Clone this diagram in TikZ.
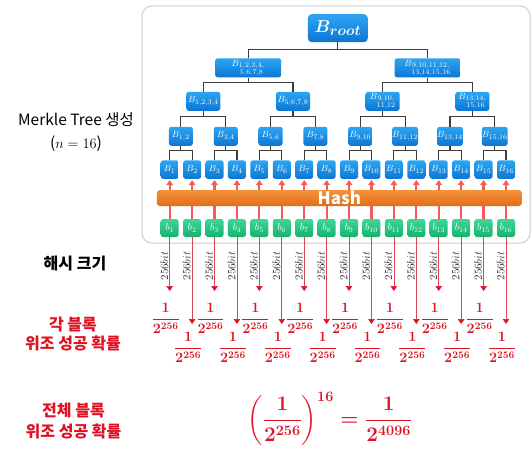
\documentclass[tikz,border=0pt]{standalone}
\usepackage{amsmath}
\usepackage{fontspec}
\newfontfamily\kr{Noto Sans CJK KR}
\usetikzlibrary{arrows.meta}
\definecolor{bluetop}{RGB}{45,165,242}
\definecolor{bluebot}{RGB}{12,118,212}
\definecolor{greentop}{RGB}{62,215,150}
\definecolor{greenbot}{RGB}{22,176,112}
\definecolor{orangetop}{RGB}{244,146,58}
\definecolor{orangebot}{RGB}{226,108,24}
\definecolor{hashred}{RGB}{242,92,92}
\definecolor{linered}{RGB}{214,72,88}
\definecolor{txtred}{RGB}{222,18,34}
\definecolor{conn}{RGB}{60,60,60}
\definecolor{framec}{RGB}{205,205,205}
\tikzset{
  bluebox/.style={rounded corners=2.5pt, top color=bluetop, bottom color=bluebot, text=white, inner sep=0pt},
  greenbox/.style={rounded corners=2.5pt, top color=greentop, bottom color=greenbot, text=white, inner sep=0pt,
     minimum width=18pt, minimum height=18pt, font=\fontsize{10}{10}\selectfont},
  leafbox/.style={bluebox, minimum width=18pt, minimum height=18.5pt, font=\fontsize{9.5}{10}\selectfont},
  lvfour/.style={bluebox, minimum width=24pt, minimum height=19pt, font=\fontsize{9.5}{10}\selectfont},
  lvthree/.style={bluebox, minimum width=34pt, minimum height=19pt, font=\fontsize{9.5}{10}\selectfont},
  lvtwo/.style={bluebox, minimum width=66pt, minimum height=19pt, font=\fontsize{9.5}{10}\selectfont},
  rootbox/.style={bluebox, rounded corners=4pt, minimum width=60pt, minimum height=28pt, font=\fontsize{19}{20}\selectfont\boldmath},
  connline/.style={draw=conn, line width=1.1pt},
  hasharrow/.style={draw=hashred, line width=2.2pt, -{Triangle[width=6.5pt,length=5pt]}, shorten >=1pt},
  hashbar/.style={rounded corners=3pt, top color=orangetop, bottom color=orangebot, minimum width=365pt, minimum height=16pt,
     inner sep=0pt, text=white, font=\kr\bfseries\fontsize{17}{17}\selectfont},
  thinarrow/.style={draw=linered, line width=0.7pt, -{Triangle[width=6.5pt,length=5pt,color=txtred]}},
  bitlabel/.style={rotate=90, inner sep=0pt, text=black!80, font=\fontsize{10.5}{10}\selectfont},
  fraclabel/.style={inner sep=0pt, anchor=base, text=txtred, font=\fontsize{14.5}{15}\selectfont\boldmath},
  krlabel/.style={align=center, inner sep=0pt, font=\kr\bfseries\fontsize{16}{20}\selectfont},
}
\begin{document}
\begin{tikzpicture}[x=1pt,y=-1pt]
\useasboundingbox (0,0) rectangle (532,452);
% frame
\draw[framec, line width=1pt, fill=white, rounded corners=10pt] (142,6) rectangle (530,243);

% leaves
\foreach \i in {1,...,16}{
  \pgfmathsetmacro\xx{169.7+(\i-1)*22.42}
  \node[greenbox] (b\i) at (\xx,228) {$b_{\i}$};
  \node[leafbox] (B\i) at (\xx,169.6) {$B_{\i}$};
}
% level 4
\foreach \k in {1,...,8}{
  \pgfmathtruncatemacro\a{2*\k-1}
  \pgfmathtruncatemacro\c{2*\k}
  \pgfmathsetmacro\xx{169.7+(2*\k-1.5)*22.42}
  \node[lvfour] (P\k) at (\xx,136.3) {$B_{\a,\c}$};
}
% level 3
\node[lvthree] (Q1) at (203.33,101.3) {$B_{1,2,3,4}$};
\node[lvthree] (Q2) at (293.01,101.3) {$B_{5,6,7,8}$};
\node[lvthree] (Q3) at (382.69,101.3) {$B_{\substack{9,10,\\11,12}}$};
\node[lvthree] (Q4) at (472.37,101.3) {$B_{\substack{13,14,\\15,16}}$};
% level 2
\node[lvtwo] (R1) at (248.17,67.8) {$B_{\substack{1,2,3,4,\\5,6,7,8}}$};
\node[lvtwo] (R2) at (427.53,67.8) {$B_{\substack{9,10,11,12,\\13,14,15,16}}$};
% root
\node[rootbox] (root) at (337.85,28.2) {$B_{root}$};

% connectors
\foreach \k in {1,...,8}{
  \pgfmathtruncatemacro\a{2*\k-1}
  \pgfmathtruncatemacro\c{2*\k}
  \draw[connline] (P\k.south) -- (P\k.south |- 0,150.7);
  \draw[connline] (B\a.north) -- (B\a.north |- 0,150.7) -- (B\c.north |- 0,150.7) -- (B\c.north);
}
\foreach \k in {1,...,4}{
  \pgfmathtruncatemacro\a{2*\k-1}
  \pgfmathtruncatemacro\c{2*\k}
  \draw[connline] (Q\k.south) -- (Q\k.south |- 0,116.7);
  \draw[connline] (P\a.north) -- (P\a.north |- 0,116.7) -- (P\c.north |- 0,116.7) -- (P\c.north);
}
\foreach \k in {1,2}{
  \pgfmathtruncatemacro\a{2*\k-1}
  \pgfmathtruncatemacro\c{2*\k}
  \draw[connline] (R\k.south) -- (R\k.south |- 0,82.7);
  \draw[connline] (Q\a.north) -- (Q\a.north |- 0,82.7) -- (Q\c.north |- 0,82.7) -- (Q\c.north);
}
\draw[connline] (root.south) -- (root.south |- 0,49.3);
\draw[connline] (R1.north) -- (R1.north |- 0,49.3) -- (R2.north |- 0,49.3) -- (R2.north);

% hash arrows
\foreach \i in {1,...,16}{
  \draw[hasharrow] (b\i.north) -- (B\i.south);
}
\node[hashbar] (hash) at (339.35,198) {Hash};

% below
\foreach \i in {1,...,16}{
  \pgfmathsetmacro\xx{169.7+(\i-1)*22.42}
  \pgfmathsetmacro\ty{ifthenelse(mod(\i,2)==1,291,324)}
  \pgfmathsetmacro\fy{ifthenelse(mod(\i,2)==1,322.8,351.8)}
  \coordinate (t\i) at (\xx,\ty);
  \draw[thinarrow] (b\i.south) -- (t\i);
  \node[bitlabel] (w\i) at (\xx-5.5,266) {$256bit$};
  \node[fraclabel] (f\i) at (\xx-4,\fy) {$\dfrac{1}{2^{256}}$};
}

% left labels
\node[krlabel, font=\kr\fontsize{15.5}{23}\selectfont] (mt) at (76,132) {Merkle Tree 생성\\($n=16$)};
\node[krlabel] (hs) at (75,263.5) {해시 크기};
\node[krlabel, text=txtred, font=\kr\bfseries\fontsize{16}{19.5}\selectfont] (each) at (73,334) {각 블록\\위조 성공 확률};
\node[krlabel, text=txtred, font=\kr\bfseries\fontsize{16}{21}\selectfont] (all) at (73.5,421) {전체 블록\\위조 성공 확률};

% total equation
\node[inner sep=0pt, anchor=base, text=txtred, font=\fontsize{20}{24}\selectfont\boldmath] (eq) at (330,425.7)
  {$\left(\dfrac{1}{2^{256}}\right)^{16}=\dfrac{1}{2^{4096}}$};
\end{tikzpicture}
\end{document}
